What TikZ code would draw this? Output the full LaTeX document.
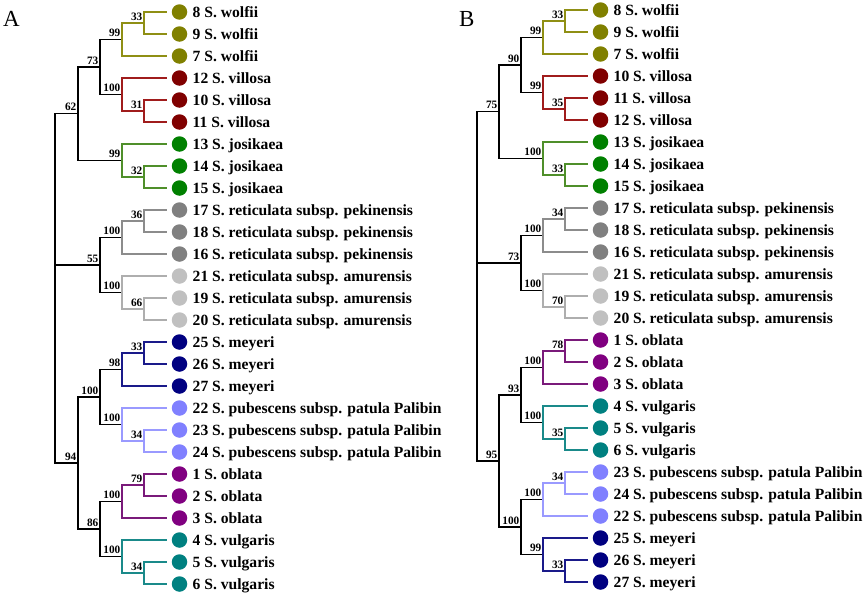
\documentclass[tikz,border=0pt]{standalone}
\usepackage{fontspec}
\setmainfont{Liberation Serif}
\definecolor{olC}{HTML}{808000}\definecolor{olL}{HTML}{8F8F14}
\definecolor{rdC}{HTML}{800000}\definecolor{rdL}{HTML}{A01C1C}
\definecolor{grC}{HTML}{008000}\definecolor{grL}{HTML}{4F8F2A}
\definecolor{pkC}{HTML}{808080}\definecolor{pkL}{HTML}{8C8C8C}
\definecolor{amC}{HTML}{C0C0C0}\definecolor{amL}{HTML}{AEAEAE}
\definecolor{myC}{HTML}{000080}\definecolor{myL}{HTML}{1A1A8A}
\definecolor{puC}{HTML}{8080FF}\definecolor{puL}{HTML}{9A9AFF}
\definecolor{obC}{HTML}{800080}\definecolor{obL}{HTML}{7A1A7A}
\definecolor{vuC}{HTML}{008080}\definecolor{vuL}{HTML}{1A8A8A}
\tikzset{
  br/.style={line width=1.35pt, line cap=rect},
  dot/.style={circle, inner sep=0pt, minimum size=15.5pt, draw=none},
  leaflab/.style={anchor=west, inner sep=0pt, text height=10.6pt, text depth=0pt, font=\bfseries\fontsize{15.6}{16}\selectfont},
  bs/.style={anchor=base east, inner sep=0pt, xshift=-1.5pt, yshift=3pt, font=\bfseries\fontsize{11.3}{12}\selectfont},
  panel/.style={anchor=north west, inner sep=0pt, font=\fontsize{23}{24}\selectfont}
}
\newcommand\leafrow[5]{%
  \coordinate (t#1) at (#2,#3);
  \node[dot, fill=#4] (c#1) at ([xshift=13.5pt]t#1) {};
  \node[leaflab] (n#1) at ([xshift=26.5pt]t#1) {#5};
}
\newcommand\inode[4]{%
  \coordinate (#1) at (#2,#3);
  \node[bs] (#1l) at (#1) {#4};
}
\begin{document}
\begin{tikzpicture}[x=1pt,y=-1pt]
\useasboundingbox (0,0) rectangle (865,597);
\node[panel] (pA) at (3,11) {A};
\node[panel] (pB) at (459,11) {B};
% ---------------- Tree A ----------------
\leafrow{A0}{166}{12}{olC}{8 S. wolfii}
\leafrow{A1}{166}{34}{olC}{9 S. wolfii}
\leafrow{A2}{166}{56}{olC}{7 S. wolfii}
\leafrow{A3}{166}{78}{rdC}{12 S. villosa}
\leafrow{A4}{166}{100}{rdC}{10 S. villosa}
\leafrow{A5}{166}{122}{rdC}{11 S. villosa}
\leafrow{A6}{166}{144}{grC}{13 S. josikaea}
\leafrow{A7}{166}{166}{grC}{14 S. josikaea}
\leafrow{A8}{166}{188}{grC}{15 S. josikaea}
\leafrow{A9}{166}{210}{pkC}{17 S. reticulata subsp. pekinensis}
\leafrow{A10}{166}{232}{pkC}{18 S. reticulata subsp. pekinensis}
\leafrow{A11}{166}{254}{pkC}{16 S. reticulata subsp. pekinensis}
\leafrow{A12}{166}{276}{amC}{21 S. reticulata subsp. amurensis}
\leafrow{A13}{166}{298}{amC}{19 S. reticulata subsp. amurensis}
\leafrow{A14}{166}{320}{amC}{20 S. reticulata subsp. amurensis}
\leafrow{A15}{166}{342}{myC}{25 S. meyeri}
\leafrow{A16}{166}{364}{myC}{26 S. meyeri}
\leafrow{A17}{166}{386}{myC}{27 S. meyeri}
\leafrow{A18}{166}{408}{puC}{22 S. pubescens subsp. patula Palibin}
\leafrow{A19}{166}{430}{puC}{23 S. pubescens subsp. patula Palibin}
\leafrow{A20}{166}{452}{puC}{24 S. pubescens subsp. patula Palibin}
\leafrow{A21}{166}{474}{obC}{1 S. oblata}
\leafrow{A22}{166}{496}{obC}{2 S. oblata}
\leafrow{A23}{166}{518}{obC}{3 S. oblata}
\leafrow{A24}{166}{540}{vuC}{4 S. vulgaris}
\leafrow{A25}{166}{562}{vuC}{5 S. vulgaris}
\leafrow{A26}{166}{584}{vuC}{6 S. vulgaris}
\inode{a33}{144}{23}{33}
\inode{a99w}{122}{39.5}{99}
\inode{a31}{144}{111}{31}
\inode{a100v}{122}{94.5}{100}
\inode{a73}{100}{67}{73}
\inode{a32}{144}{177}{32}
\inode{a99j}{122}{160.5}{99}
\inode{a62}{78}{113.75}{62}
\inode{a36}{144}{221}{36}
\inode{a100p}{122}{237.5}{100}
\inode{a66}{144}{309}{66}
\inode{a100a}{122}{292.5}{100}
\inode{a55}{100}{265}{55}
\inode{a33m}{144}{353}{33}
\inode{a98}{122}{369.5}{98}
\inode{a34p}{144}{441}{34}
\inode{a100pu}{122}{424.5}{100}
\inode{a100mp}{100}{397}{100}
\inode{a79}{144}{485}{79}
\inode{a100o}{122}{501.5}{100}
\inode{a34v}{144}{573}{34}
\inode{a100vu}{122}{556.5}{100}
\inode{a86}{100}{529}{86}
\inode{a94}{78}{463}{94}
\coordinate (aroot) at (55,288);
\draw[br] (aroot) |- (a62) (aroot) |- (a55) (aroot) |- (a94)
  (a62) |- (a73) (a62) |- (a99j) (a73) |- (a99w) (a73) |- (a100v)
  (a55) |- (a100p) (a55) |- (a100a) (a94) |- (a100mp) (a94) |- (a86)
  (a100mp) |- (a98) (a100mp) |- (a100pu) (a86) |- (a100o) (a86) |- (a100vu);
\draw[br, olL] (a99w) |- (a33) (a99w) |- (tA2) (a33) |- (tA0) (a33) |- (tA1);
\draw[br, rdL] (a100v) |- (tA3) (a100v) |- (a31) (a31) |- (tA4) (a31) |- (tA5);
\draw[br, grL] (a99j) |- (tA6) (a99j) |- (a32) (a32) |- (tA7) (a32) |- (tA8);
\draw[br, pkL] (a100p) |- (a36) (a100p) |- (tA11) (a36) |- (tA9) (a36) |- (tA10);
\draw[br, amL] (a100a) |- (tA12) (a100a) |- (a66) (a66) |- (tA13) (a66) |- (tA14);
\draw[br, myL] (a98) |- (a33m) (a98) |- (tA17) (a33m) |- (tA15) (a33m) |- (tA16);
\draw[br, puL] (a100pu) |- (tA18) (a100pu) |- (a34p) (a34p) |- (tA19) (a34p) |- (tA20);
\draw[br, obL] (a100o) |- (a79) (a100o) |- (tA23) (a79) |- (tA21) (a79) |- (tA22);
\draw[br, vuL] (a100vu) |- (tA24) (a100vu) |- (a34v) (a34v) |- (tA25) (a34v) |- (tA26);
% ---------------- Tree B ----------------
\leafrow{B0}{587}{10}{olC}{8 S. wolfii}
\leafrow{B1}{587}{32}{olC}{9 S. wolfii}
\leafrow{B2}{587}{54}{olC}{7 S. wolfii}
\leafrow{B3}{587}{76}{rdC}{10 S. villosa}
\leafrow{B4}{587}{98}{rdC}{11 S. villosa}
\leafrow{B5}{587}{120}{rdC}{12 S. villosa}
\leafrow{B6}{587}{142}{grC}{13 S. josikaea}
\leafrow{B7}{587}{164}{grC}{14 S. josikaea}
\leafrow{B8}{587}{186}{grC}{15 S. josikaea}
\leafrow{B9}{587}{208}{pkC}{17 S. reticulata subsp. pekinensis}
\leafrow{B10}{587}{230}{pkC}{18 S. reticulata subsp. pekinensis}
\leafrow{B11}{587}{252}{pkC}{16 S. reticulata subsp. pekinensis}
\leafrow{B12}{587}{274}{amC}{21 S. reticulata subsp. amurensis}
\leafrow{B13}{587}{296}{amC}{19 S. reticulata subsp. amurensis}
\leafrow{B14}{587}{318}{amC}{20 S. reticulata subsp. amurensis}
\leafrow{B15}{587}{340}{obC}{1 S. oblata}
\leafrow{B16}{587}{362}{obC}{2 S. oblata}
\leafrow{B17}{587}{384}{obC}{3 S. oblata}
\leafrow{B18}{587}{406}{vuC}{4 S. vulgaris}
\leafrow{B19}{587}{428}{vuC}{5 S. vulgaris}
\leafrow{B20}{587}{450}{vuC}{6 S. vulgaris}
\leafrow{B21}{587}{472}{puC}{23 S. pubescens subsp. patula Palibin}
\leafrow{B22}{587}{494}{puC}{24 S. pubescens subsp. patula Palibin}
\leafrow{B23}{587}{516}{puC}{22 S. pubescens subsp. patula Palibin}
\leafrow{B24}{587}{538}{myC}{25 S. meyeri}
\leafrow{B25}{587}{560}{myC}{26 S. meyeri}
\leafrow{B26}{587}{582}{myC}{27 S. meyeri}
\inode{b33}{565}{21}{33}
\inode{b99w}{543}{37.5}{99}
\inode{b35}{565}{109}{35}
\inode{b99v}{543}{92.5}{99}
\inode{b90}{521}{65}{90}
\inode{b33j}{565}{175}{33}
\inode{b100j}{543}{158.5}{100}
\inode{b75}{499}{111.75}{75}
\inode{b34}{565}{219}{34}
\inode{b100p}{543}{235.5}{100}
\inode{b70}{565}{307}{70}
\inode{b100a}{543}{290.5}{100}
\inode{b73}{521}{263}{73}
\inode{b78}{565}{351}{78}
\inode{b100o}{543}{367.5}{100}
\inode{b35v}{565}{439}{35}
\inode{b100v}{543}{422.5}{100}
\inode{b93}{521}{395}{93}
\inode{b34u}{565}{483}{34}
\inode{b100u}{543}{499.5}{100}
\inode{b33m}{565}{571}{33}
\inode{b99m}{543}{554.5}{99}
\inode{b100l}{521}{527}{100}
\inode{b95}{499}{461}{95}
\coordinate (broot) at (477,286);
\draw[br] (broot) |- (b75) (broot) |- (b73) (broot) |- (b95)
  (b75) |- (b90) (b75) |- (b100j) (b90) |- (b99w) (b90) |- (b99v)
  (b73) |- (b100p) (b73) |- (b100a) (b95) |- (b93) (b95) |- (b100l)
  (b93) |- (b100o) (b93) |- (b100v) (b100l) |- (b100u) (b100l) |- (b99m);
\draw[br, olL] (b99w) |- (b33) (b99w) |- (tB2) (b33) |- (tB0) (b33) |- (tB1);
\draw[br, rdL] (b99v) |- (tB3) (b99v) |- (b35) (b35) |- (tB4) (b35) |- (tB5);
\draw[br, grL] (b100j) |- (tB6) (b100j) |- (b33j) (b33j) |- (tB7) (b33j) |- (tB8);
\draw[br, pkL] (b100p) |- (b34) (b100p) |- (tB11) (b34) |- (tB9) (b34) |- (tB10);
\draw[br, amL] (b100a) |- (tB12) (b100a) |- (b70) (b70) |- (tB13) (b70) |- (tB14);
\draw[br, obL] (b100o) |- (b78) (b100o) |- (tB17) (b78) |- (tB15) (b78) |- (tB16);
\draw[br, vuL] (b100v) |- (tB18) (b100v) |- (b35v) (b35v) |- (tB19) (b35v) |- (tB20);
\draw[br, puL] (b100u) |- (b34u) (b100u) |- (tB23) (b34u) |- (tB21) (b34u) |- (tB22);
\draw[br, myL] (b99m) |- (tB24) (b99m) |- (b33m) (b33m) |- (tB25) (b33m) |- (tB26);
\end{tikzpicture}
\end{document}
